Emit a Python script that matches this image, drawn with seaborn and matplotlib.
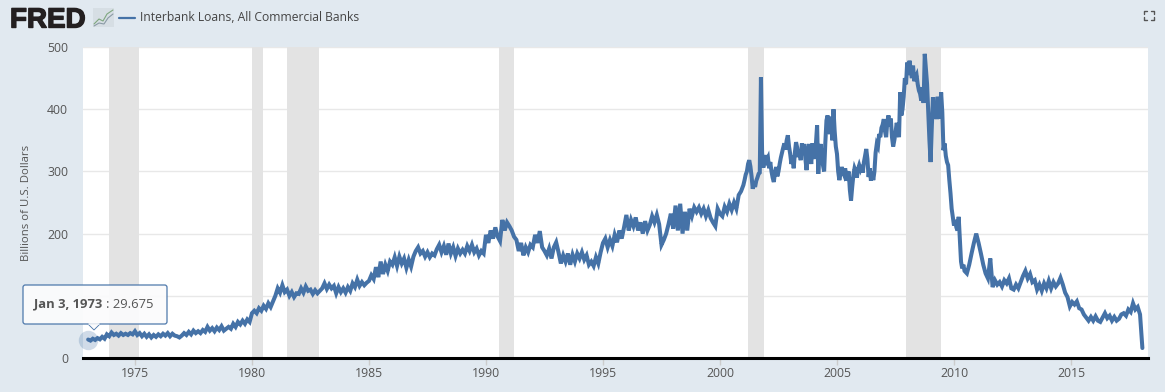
import numpy as np
import pandas as pd
import matplotlib
matplotlib.use("Agg")
import matplotlib.pyplot as plt
from matplotlib.patches import FancyBboxPatch, Polygon, Rectangle
from matplotlib.lines import Line2D
import matplotlib.patheffects as pe
import seaborn as sns

vals_1973_1979 = [
    29.7,28,31,29,32,30,34,31,38,35,
    41,37,39,36,40,37,39,37,40,38,
    43,37,40,35,39,34,38,33,37,34,
    38,35,39,36,40,35,39,36,35,33,
    36,40,37,42,38,44,40,43,40,45,
    42,50,44,48,43,49,45,51,44,47,
    50,47,55,50,58,54,60,55,62,58]
vals_1980_1989 = [
    72,76,72,80,76,84,79,88,82,91,
    100,112,105,117,106,110,100,106,98,104,
    103,112,105,115,108,110,103,109,104,108,
    112,120,111,118,112,116,104,114,106,112,
    105,114,108,120,114,126,116,122,117,121,
    124,133,127,146,130,155,135,150,140,155,
    150,162,148,163,152,160,145,158,147,163,
    172,178,168,172,163,170,162,168,165,175,
    182,170,180,166,184,168,178,164,176,168,
    174,168,180,172,182,170,176,165,172,168]
vals_1990_2000 = [
    198,185,205,192,210,195,188,222,205,218,
    212,205,195,190,172,185,165,178,170,182,
    178,198,185,204,178,172,165,176,160,178,
    186,170,152,165,155,168,150,166,155,168,
    160,170,158,165,150,155,148,162,152,170,
    185,192,178,190,180,198,186,205,192,210,
    230,205,222,212,226,205,218,200,220,205,
    214,228,218,230,215,182,190,200,215,232,
    208,245,205,248,200,235,205,240,228,242,
    235,242,232,240,228,238,225,218,212,240,
    232,228,243,235,248,238,250,240,262,268]
vals_2001_2010 = [
    278,286,295,300,312,318,308,292,272,282,275,285,290,296,298,451,330,306,316,326,
    318,322,305,315,300,290,283,298,307,292,300,312,322,330,338,345,335,350,358,340,
    328,312,325,305,330,347,338,323,330,318,345,335,344,320,302,332,344,325,312,345,
    320,335,345,374,296,330,344,325,310,300,345,382,390,370,360,388,350,400,365,340,
    328,300,286,296,307,300,295,305,285,295,300,270,253,275,294,305,300,290,304,310,
    304,310,298,315,325,336,320,291,305,285,300,286,300,330,344,340,360,355,370,375,
    384,365,355,380,390,372,385,355,340,350,362,378,370,355,427,390,400,420,450,440,
    475,455,478,462,450,470,445,451,455,440,430,425,414,435,410,489,465,440,395,350,
    315,370,419,395,410,384,420,390,385,427,395,334,345,325,315,310,286,265,240,227,
    213,222,210,205,227,190,155,144,150,140]
vals_2010_2018 = [
    136,150,168,185,200,
    185,168,150,136,128,160,114,125,118,122,
    115,125,120,128,112,110,118,112,122,132,
    140,128,135,122,125,110,118,108,120,112,
    124,112,122,115,120,129,118,105,98,83,
    90,86,91,80,78,70,65,60,66,60,
    67,60,58,65,72,64,68,60,66,60,
    63,70,72,68,78,74,88,78,82,70,
    16]
years_a = 1973 + 0.1 * np.arange(len(vals_1973_1979) + len(vals_1980_1989) + len(vals_1990_2000))
years_b = 2001 + 0.05 * np.arange(len(vals_2001_2010))
years_c = 2010.55 + 0.1 * np.arange(len(vals_2010_2018))
recession_start = [1973.87, 1980.0, 1981.5, 1990.55, 2001.2, 2007.95]
recession_end = [1975.17, 1980.47, 1982.85, 1991.2, 2001.88, 2009.45]
x_ticks = [1975, 1980, 1985, 1990, 1995, 2000, 2005, 2010, 2015]
y_ticks = [0, 100, 200, 300, 400, 500]
# the 100 label is hidden behind the tooltip in the reference
y_tick_labels = ["0", "", "200", "300", "400", "500"]

W, H = 1165, 392
BG = "#e1e9f0"
BLUE = "#4572a7"
TXT = "#555555"
sns.set_theme(style="white")
plt.rcParams["font.family"] = ["Open Sans", "DejaVu Sans"]

df = pd.DataFrame({
    "year": np.concatenate([years_a, years_b, years_c]),
    "value": vals_1973_1979 + vals_1980_1989 + vals_1990_2000 + vals_2001_2010 + vals_2010_2018,
})

fig = plt.figure(figsize=(W / 100, H / 100), dpi=100, facecolor=BG)
ax = fig.add_axes([83 / W, 1 - 358 / H, (1148 - 83) / W, (358 - 47) / H], facecolor="white")


def fx(px):
    return px / W


def fy(py):
    return 1 - py / H


for a, b in zip(recession_start, recession_end):
    ax.axvspan(a, b, color="#e3e3e3", lw=0, zorder=1)
ax.yaxis.grid(True, color="#e8e8e8", lw=1)
ax.xaxis.grid(False)
ax.set_axisbelow(True)
sns.lineplot(data=df, x="year", y="value", estimator=None, sort=False, color=BLUE,
             lw=2.9, ax=ax, zorder=3, solid_joinstyle="miter")
ax.plot([df["year"].iloc[0]], [df["value"].iloc[0]], "o", ms=14, mfc="#4572a7", mec="none",
        alpha=0.25, zorder=4, clip_on=False)

ax.set_xlim(1972.78, 2018.29)
ax.set_ylim(0, 500)
ax.set_xticks(x_ticks)
ax.set_yticks(y_ticks)
ax.set_yticklabels(y_tick_labels)
ax.set_xlabel("")
ax.set_ylabel("Billions of U.S. Dollars", fontsize=8.2, color=TXT, labelpad=11)
ax.tick_params(axis="x", length=5, width=1, color="#cccccc", labelsize=8.8, labelcolor=TXT, pad=1.5, bottom=True)
ax.tick_params(axis="y", length=0, labelsize=8.8, labelcolor=TXT, pad=10.8)
for s in ["top", "left", "right"]:
    ax.spines[s].set_visible(False)
ax.spines["bottom"].set_color("black")
ax.spines["bottom"].set_linewidth(2.2)

# Header
fig.text(fx(10), fy(27.5), "FRED", fontsize=20, fontweight="bold", color="#231f20", family="Liberation Sans",
         path_effects=[pe.withStroke(linewidth=1.0, foreground="#231f20")])
fig.add_artist(Rectangle((fx(93), fy(27)), 21 / W, 19 / H, transform=fig.transFigure, fc="#d6dee4", ec="none"))
fig.add_artist(Line2D([fx(p) for p in (94, 99, 103, 107, 113)], [fy(p) for p in (24, 19, 21, 14, 10)],
                      color="#7fa77f", lw=0.8))
fig.add_artist(Line2D([fx(p) for p in (94, 99, 104, 108, 113)], [fy(p) for p in (26, 23, 24, 18, 14)],
                      color="#8a9aa5", lw=0.8))
fig.add_artist(Line2D([fx(119), fx(135)], [fy(17.5), fy(17.5)], color=BLUE, lw=1.6))
fig.text(fx(140), fy(17.5), "Interbank Loans, All Commercial Banks", fontsize=8.7, color="#444444", va="center")

# Fullscreen icon
for cx, cy, dx, dy in [(1144, 11, 1, 1), (1154, 11, -1, 1), (1144, 20, 1, -1), (1154, 20, -1, -1)]:
    fig.add_artist(Line2D([fx(cx + 3 * dx), fx(cx), fx(cx)], [fy(cy), fy(cy), fy(cy + 3 * dy)],
                          color="#555555", lw=1))

# Tooltip
fig.add_artist(FancyBboxPatch((fx(23), fy(324)), 144 / W, 39 / H, transform=fig.transFigure,
                              boxstyle="round,pad=0,rounding_size=0.002", mutation_aspect=3,
                              fc="#fbfbfc", ec=BLUE, lw=0.9, alpha=0.95, zorder=6))
fig.add_artist(Polygon([(fx(88), fy(324)), (fx(100), fy(324)), (fx(94), fy(330))], closed=True,
                       transform=fig.transFigure, fc="#fbfbfc", ec=BLUE, lw=0.6, zorder=6))
fig.add_artist(Line2D([fx(89), fx(99)], [fy(324), fy(324)], color="#fbfbfc", lw=1.2, zorder=7))
fig.text(fx(34), fy(304), "Jan 3, 1973", fontsize=9.4, fontweight="bold", color="#555555", va="center", zorder=8)
fig.text(fx(106), fy(304), ": 29.675", fontsize=9.4, color="#555555", va="center", zorder=8)

fig.savefig("out.png", dpi=100, facecolor=BG)
